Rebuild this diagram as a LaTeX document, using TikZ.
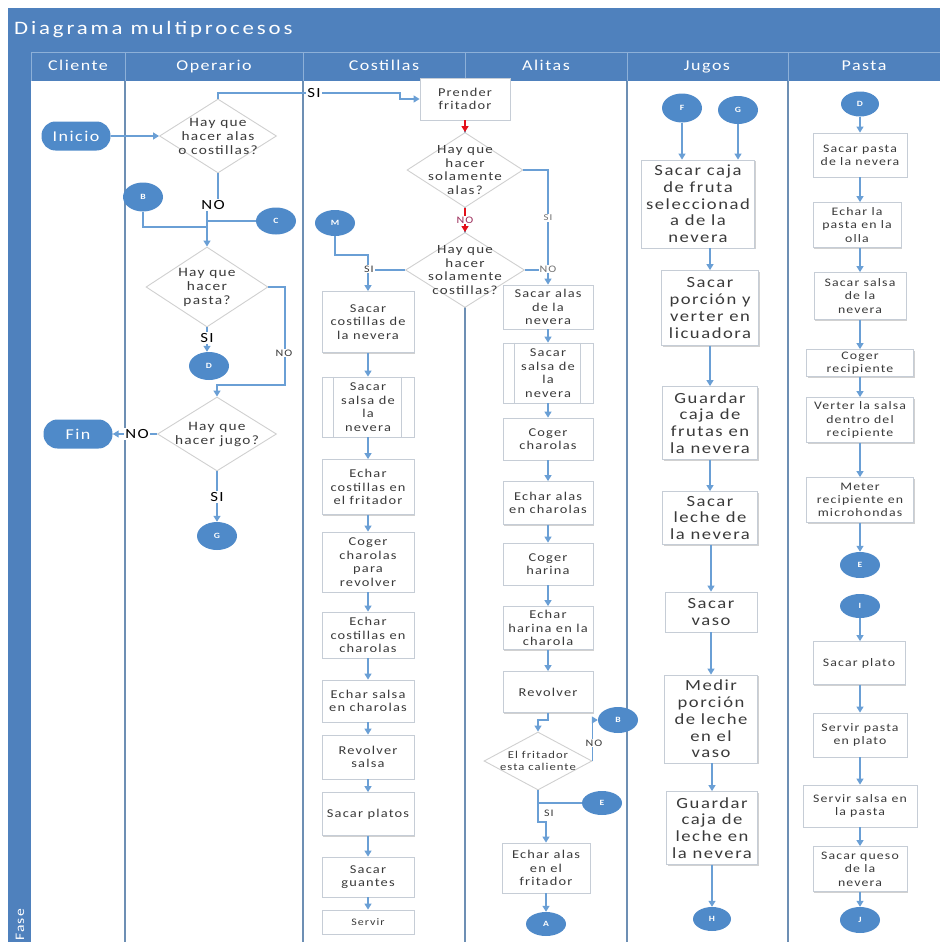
\documentclass[tikz,border=0pt]{standalone}
\usepackage{fontspec}
\setmainfont{Carlito}[FakeStretch=1.2, LetterSpace=10]
\usetikzlibrary{shapes.geometric,arrows.meta,shadows,calc}

\definecolor{hdr}{HTML}{4F81BD}
\definecolor{hdrline}{HTML}{8DB0D8}
\definecolor{lanec}{HTML}{6D8FB4}
\definecolor{circ}{HTML}{4F8AC9}
\definecolor{arr}{HTML}{6A9FD5}
\definecolor{boxd}{HTML}{C6CDD6}
\definecolor{diad}{HTML}{D0D0D0}
\definecolor{txt}{HTML}{3A3A3A}
\definecolor{redarr}{HTML}{E3101A}
\definecolor{nored}{HTML}{9B2D5A}
\definecolor{smallgray}{HTML}{707070}

\tikzset{
  flow/.style={draw=arr, line width=1.3pt, -{Triangle[length=6pt,width=7pt]}},
  flowplain/.style={draw=arr, line width=1.3pt},
  redflow/.style={draw=redarr, line width=1.3pt, -{Triangle[length=6pt,width=7pt]}},
  proc/.style={draw=boxd, fill=white, line width=0.8pt, align=center, text=txt,
    inner sep=1pt, font=\fontsize{12}{13.5}\selectfont,
    drop shadow={shadow xshift=1.2pt, shadow yshift=-1.2pt, opacity=0.18, fill=black}},
  pbox/.style 2 args={proc, minimum width=#1pt, minimum height=#2pt},
  jbox/.style 2 args={proc, minimum width=#1pt, minimum height=#2pt,
    font=\fontsize{15.5}{16.7}\selectfont},
  sbox/.style 2 args={proc, minimum width=#1pt, minimum height=#2pt,
    font=\fontsize{11.5}{13.3}\selectfont},
  conn/.style={ellipse, fill=circ, text=white, inner sep=0pt,
    minimum width=40pt, minimum height=27pt, font=\fontsize{8}{9}\selectfont\bfseries},
  term/.style={rectangle, rounded corners=14pt, fill=circ, text=white, inner sep=0pt,
    minimum width=69pt, minimum height=29pt, font=\fontsize{15}{16}\selectfont},
  decshape/.style 2 args={diamond, draw=diad, fill=white, line width=0.9pt,
    inner sep=0pt, minimum width=#1pt, minimum height=#2pt},
  dtxt/.style={align=center, text=txt, inner sep=0pt, font=\fontsize{12.8}{14}\selectfont},
  biglab/.style={fill=white, inner sep=1pt, text=black, font=\fontsize{14}{15}\selectfont},
  smlab/.style={fill=white, inner sep=1pt, text=txt, font=\fontsize{10}{11}\selectfont},
  lanehead/.style={text=white, inner sep=0pt, text height=10pt, text depth=3pt,
    font=\fontsize{15}{16}\selectfont},
  sepline/.style={draw=lanec, line width=1.6pt}
}

\begin{document}
\begin{tikzpicture}[x=1pt,y=-1pt]
\useasboundingbox (0,0) rectangle (940,942);
\clip (0,0) rectangle (940,942);

% ---- frame: title bar, lane headers, phase strip ----
\fill[hdr] (8,8) rectangle (940,52);
\node[anchor=west, text=white, inner sep=0pt, font=\fontsize{19}{21}\selectfont\addfontfeatures{LetterSpace=15}] at (14,30) {Diagrama multiprocesos};
\fill[hdr] (8,52) rectangle (940,81);
\fill[hdr] (8,52) rectangle (31,942);
\draw[hdrline, line width=0.8pt] (31,52) -- (940,52);
\foreach \xx in {31,125,303,465,627,788}
  \draw[hdrline, line width=0.8pt] (\xx,52) -- (\xx,81);
\node[lanehead] at (78,67) {Cliente};
\node[lanehead] at (214,67) {Operario};
\node[lanehead] at (384,67) {Costillas};
\node[lanehead] at (546,67) {Alitas};
\node[lanehead] at (707,67) {Jugos};
\node[lanehead] at (864,67) {Pasta};
\node[rotate=90, anchor=west, text=white, inner sep=0pt, font=\fontsize{13}{14}\selectfont] at (20,941) {Fase};

% ---- lane separators ----
\foreach \xx in {125,303,465,627,788}
  \draw[sepline] (\xx,81) -- (\xx,942);

% ---- Cliente ----
\node[term] (ini) at (76,136) {Inicio};
\node[term] (fin) at (78,434) {Fin};

% ---- Operario ----
\node[decshape={117}{74}] (d1) at (218,136) {};
\node[dtxt] at (d1) {Hay que\\hacer alas\\o costillas?};
\node[conn, minimum height=29pt] (cB1) at (143,197) {B};
\node[conn] (cC) at (276,221) {C};
\node[decshape={122}{80}] (d2) at (207,287) {};
\node[dtxt] at (d2) {Hay que\\hacer\\pasta?};
\node[conn, minimum height=28pt] (cD1) at (209,366) {D};
\node[decshape={119}{74}] (d3) at (217,434) {};
\node[dtxt] at (d3) {Hay que\\hacer jugo?};
\node[conn, minimum height=28pt] (cG1) at (217,536) {G};

% ---- Costillas ----
\node[pbox={90}{42}] (pf) at (465,99) {Prender\\fritador};
\node[decshape={116}{75}] (d4) at (465,170) {};
\node[dtxt, font=\fontsize{12.5}{13.6}\selectfont] at (d4) {Hay que\\hacer\\solamente\\alas?};
\node[decshape={119}{75}] (d5) at (465,270) {};
\node[dtxt, font=\fontsize{12.5}{13.6}\selectfont] at (d5) {Hay que\\hacer\\solamente\\costillas?};
\node[conn, minimum height=26pt] (cM) at (335,223) {M};

\node[pbox={92}{61}] (c1) at (368,322) {Sacar\\costillas de\\la nevera};
\node[pbox={92}{60}] (c2) at (368,407) {Sacar\\salsa de\\la\\nevera};
\node[pbox={92}{55}] (c3) at (368,487) {Echar\\costillas en\\el fritador};
\node[pbox={92}{60}] (c4) at (368,562) {Coger\\charolas\\para\\revolver};
\node[pbox={92}{46}] (c5) at (368,635) {Echar\\costillas en\\charolas};
\node[pbox={92}{42}] (c6) at (368,701) {Echar salsa\\en charolas};
\node[pbox={92}{44}] (c7) at (368,757) {Revolver\\salsa};
\node[pbox={92}{43}] (c8) at (368,814) {Sacar platos};
\node[pbox={92}{40}] (c9) at (368,877) {Sacar\\guantes};
\node[pbox={92}{24}, font=\fontsize{10}{11}\selectfont] (c10) at (368,922) {Servir};
\draw[boxd, line width=0.8pt] ([xshift=12pt]c2.north west) -- ([xshift=12pt]c2.south west)
  ([xshift=-13pt]c2.north east) -- ([xshift=-13pt]c2.south east);

% ---- Alitas ----
\node[pbox={90}{44}] (a1) at (548,307) {Sacar alas\\de la\\nevera};
\node[pbox={90}{60}] (a2) at (548,373) {Sacar\\salsa de\\la\\nevera};
\node[pbox={90}{42}] (a3) at (548,439) {Coger\\charolas};
\node[pbox={90}{43}] (a4) at (548,503) {Echar alas\\en charolas};
\node[pbox={90}{42}] (a5) at (548,564) {Coger\\harina};
\node[pbox={90}{43}] (a6) at (548,628) {Echar\\harina en la\\charola};
\node[pbox={90}{41}] (a7) at (548,692) {Revolver};
\draw[boxd, line width=0.8pt] ([xshift=12pt]a2.north west) -- ([xshift=12pt]a2.south west)
  ([xshift=-13pt]a2.north east) -- ([xshift=-13pt]a2.south east);
\node[decshape={108}{58}] (d6) at (538,761) {};
\node[dtxt, font=\fontsize{10.5}{12.5}\selectfont] at (d6) {El fritador\\esta caliente};
\node[conn, minimum height=26pt] (cB2) at (618,720) {B};
\node[conn, minimum height=24pt] (cE1) at (602,803) {E};
\node[pbox={88}{50}] (a8) at (546,868) {Echar alas\\en el\\fritador};
\node[conn, minimum height=24pt] (cA) at (546,924) {A};

% ---- Jugos ----
\node[conn, minimum height=29pt] (cF) at (682,108) {F};
\node[conn, minimum height=28pt] (cG2) at (738,110) {G};
\node[jbox={113}{88}] (j1) at (698,204) {Sacar caja\\de fruta\\seleccionad\\a de la\\nevera};
\node[jbox={97}{75}] (j2) at (710,308) {Sacar\\porción y\\verter en\\licuadora};
\node[jbox={95}{73}] (j3) at (710,423) {Guardar\\caja de\\frutas en\\la nevera};
\node[jbox={95}{53}] (j4) at (710,518) {Sacar\\leche de\\la nevera};
\node[jbox={92}{40}] (j5) at (711,612) {Sacar\\vaso};
\node[jbox={93}{88}] (j6) at (711,719) {Medir\\porción\\de leche\\en el\\vaso};
\node[jbox={91}{73}] (j7) at (712,828) {Guardar\\caja de\\leche en\\la nevera};
\node[conn, minimum width=38pt, minimum height=24pt] (cH) at (712,919) {H};

% ---- Pasta ----
\node[conn, minimum width=38pt, minimum height=25pt] (cD2) at (860,104) {D};
\node[sbox={94}{44}] (p1) at (860,155) {Sacar pasta\\de la nevera};
\node[sbox={88}{45}] (p2) at (857,225) {Echar la\\pasta en la\\olla};
\node[sbox={92}{47}] (p3) at (860,296) {Sacar salsa\\de la\\nevera};
\node[sbox={107}{27}] (p4) at (860,363) {Coger\\recipiente};
\node[sbox={107}{45}] (p5) at (860,420) {Verter la salsa\\dentro del\\recipiente};
\node[sbox={107}{45}] (p6) at (860,500) {Meter\\recipiente en\\microhondas};
\node[conn, minimum height=26pt] (cE2) at (860,565) {E};
\node[conn, minimum height=24pt] (cI) at (860,606) {I};
\node[sbox={92}{43}] (p7) at (859,663) {Sacar plato};
\node[sbox={94}{44}] (p8) at (860,735) {Servir pasta\\en plato};
\node[sbox={114}{42}] (p9) at (860,806) {Servir salsa en\\la pasta};
\node[sbox={94}{45}] (p10) at (860,869) {Sacar queso\\de la\\nevera};
\node[conn, minimum height=26pt] (cJ) at (860,920) {J};

% ---- connectors: Cliente / Operario ----
\draw[flow] (ini.east) -- (d1.west);
\draw[flow] (d1.north) |- (400,93) |- (pf.west);
\node[biglab] at (314,93) {SI};
\draw[flow] (d1.south) -- (218,205) -| (d2.north);
\node[biglab] at (213,205) {NO};
\draw[flowplain] (cB1.south) |- (207,227);
\draw[flowplain] (cC.west) -- (cC.west -| d2.north);
\draw[flow] (d2.south) -- (d2.south |- cD1.north);
\node[biglab] at (207,338) {SI};
\draw[flow] (d2.east) -| (285,385) -| (d3.north);
\node[smlab] at (284,353) {NO};
\draw[flow] (d3.west) -- (fin.east);
\node[biglab] at (137,434) {NO};
\draw[flow] (d3.south) -- (cG1.north);
\node[biglab] at (217,497) {SI};

% ---- connectors: Costillas ----
\draw[redflow] (pf.south) -- (d4.north);
\draw[redflow] (d4.south) -- (d5.north);
\node[smlab, text=nored] at (465,220) {NO};
\draw[flow] (d4.east) -| (a1.north);
\node[smlab, text=smallgray, font=\fontsize{9}{10}\selectfont] at (548,218) {SI};
\draw[flowplain] (d5.east) -- (d5.east -| a1.north);
\node[smlab, text=smallgray] at (548,269) {NO};
\draw[flow] (cM.south) |- (368,255) -- (c1.north);
\draw[flowplain] (d5.west) -- (368,270);
\node[smlab] at (369,269) {SI};
\foreach \u/\v in {c1/c2,c2/c3,c3/c4,c4/c5,c5/c6,c6/c7,c7/c8,c8/c9,c9/c10}
  \draw[flow] (\u.south) -- (\v.north);

% ---- connectors: Alitas ----
\foreach \u/\v in {a1/a2,a2/a3,a3/a4,a4/a5,a5/a6,a6/a7}
  \draw[flow] (\u.south) -- (\v.north);
\draw[flow] (a7.south) -- ++(0,7) -| (d6.north);
\draw[flow] (d6.east) |- (cB2.west);
\node[smlab] at (594,743) {NO};
\draw[flow] (d6.south) -- (538,822) -| (a8.north);
\draw[flowplain] (cE1.west) -- (cE1.west -| d6.south);
\node[smlab, fill=none] at (549,813) {SI};
\draw[flow] (a8.south) -- (cA.north);

% ---- connectors: Jugos ----
\draw[flow] (cF.south) -- (cF.south |- j1.north);
\draw[flow] (cG2.south) -- (cG2.south |- j1.north);
\draw[flow] (j2.north |- j1.south) -- (j2.north);
\foreach \u/\v in {j2/j3,j3/j4,j4/j5,j5/j6,j6/j7,j7/cH}
  \draw[flow] (\v.north |- \u.south) -- (\v.north);

% ---- connectors: Pasta ----
\foreach \u/\v in {cD2/p1,p1/p2,p2/p3,p3/p4,p4/p5,p5/p6,p6/cE2,cI/p7,p7/p8,p8/p9,p9/p10,p10/cJ}
  \draw[flow] (\u.south -| cD2.south) -- (\v.north -| cD2.south);
\end{tikzpicture}
\end{document}
